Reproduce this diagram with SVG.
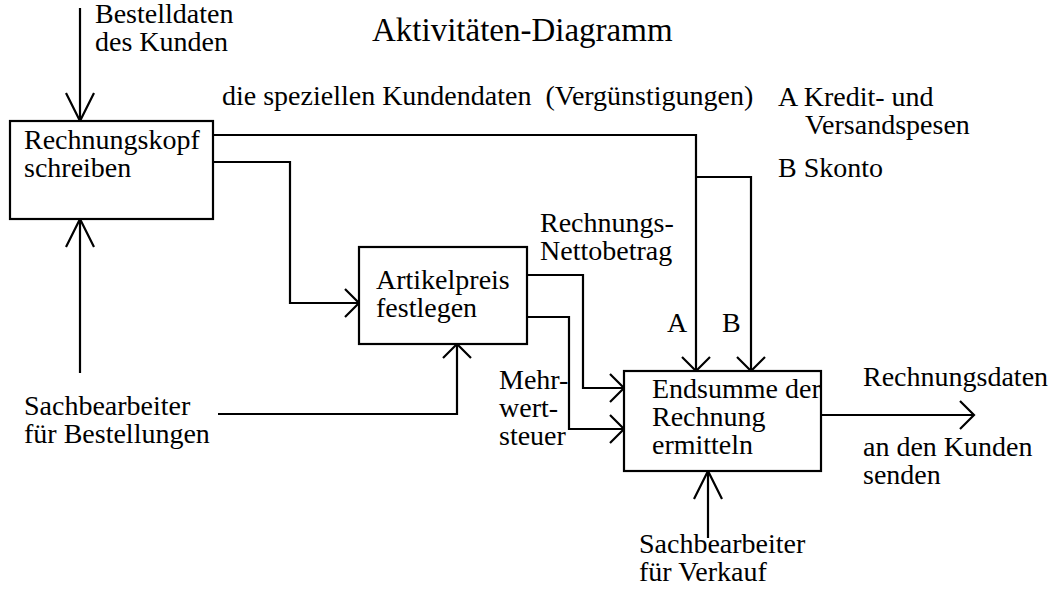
<svg xmlns="http://www.w3.org/2000/svg" width="1052" height="590" viewBox="0 0 1052 590">
  <style>
    text { font-family: "Liberation Serif", "Times New Roman", serif; font-size: 28px; fill: #000; }
    .title { font-size: 33px; }
    .box { fill: #fff; stroke: #000; stroke-width: 2.2; }
    .wire { fill: none; stroke: #000; stroke-width: 2.2; }
  </style>
  <defs>
    <!-- open V heads: short and long variants -->
    <marker id="head" markerUnits="userSpaceOnUse" orient="auto" refX="0" refY="0" markerWidth="40" markerHeight="40" overflow="visible">
      <path d="M-14,-14 L0,0 L-14,14" fill="none" stroke="#000" stroke-width="2.2"/>
    </marker>
    <marker id="headLong" markerUnits="userSpaceOnUse" orient="auto" refX="0" refY="0" markerWidth="40" markerHeight="40" overflow="visible">
      <path d="M-28,-14 L0,0 L-28,14" fill="none" stroke="#000" stroke-width="2.2"/>
    </marker>
  </defs>

  <rect width="1052" height="590" fill="#fff"/>

  <text class="title" x="372" y="41">Aktivitäten-Diagramm</text>

  <!-- connectors -->
  <g id="connectors">
    <!-- input: order data -->
    <path class="wire" d="M80,8 L80,121" marker-end="url(#headLong)"/>
    <!-- control: clerk for orders -->
    <path class="wire" d="M80,373 L80,219" marker-end="url(#headLong)"/>
    <!-- special customer data to A and B -->
    <path class="wire" d="M213,135 L696,135 L696,371" marker-end="url(#head)"/>
    <path class="wire" d="M696,177 L751,177 L751,371" marker-end="url(#head)"/>
    <!-- header to item price -->
    <path class="wire" d="M213,162 L290,162 L290,303 L359,303" marker-end="url(#head)"/>
    <!-- clerk to item price -->
    <path class="wire" d="M218,414 L457,414 L457,344" marker-end="url(#head)"/>
    <!-- net amount -->
    <path class="wire" d="M527,275 L583,275 L583,388 L624,388" marker-end="url(#head)"/>
    <!-- VAT -->
    <path class="wire" d="M527,317 L569,317 L569,429 L624,429" marker-end="url(#head)"/>
    <!-- output -->
    <path class="wire" d="M821,415 L974,415" marker-end="url(#head)"/>
    <!-- sales clerk -->
    <path class="wire" d="M708,538 L708,471" marker-end="url(#headLong)"/>
  </g>

  <g id="node-rechnungskopf">
    <rect class="box" x="10" y="121" width="203" height="98"/>
    <text x="24" y="149">Rechnungskopf</text>
    <text x="24" y="177">schreiben</text>
  </g>

  <g id="node-artikelpreis">
    <rect class="box" x="359" y="247" width="168" height="97"/>
    <text x="376" y="289">Artikelpreis</text>
    <text x="376" y="317">festlegen</text>
  </g>

  <g id="node-endsumme">
    <rect class="box" x="624" y="371" width="197" height="100"/>
    <text x="652" y="398">Endsumme der</text>
    <text x="652" y="426">Rechnung</text>
    <text x="652" y="454">ermitteln</text>
  </g>

  <g id="labels">
    <text x="95" y="23">Bestelldaten</text>
    <text x="95" y="51">des Kunden</text>
    <text x="222" y="105" xml:space="preserve">die speziellen Kundendaten  (Vergünstigungen)</text>
    <text x="778" y="106">A Kredit- und</text>
    <text x="805" y="134">Versandspesen</text>
    <text x="778" y="177">B Skonto</text>
    <text x="540" y="232">Rechnungs-</text>
    <text x="540" y="260">Nettobetrag</text>
    <text x="667" y="332">A</text>
    <text x="722" y="332">B</text>
    <text x="499" y="389">Mehr-</text>
    <text x="499" y="417">wert-</text>
    <text x="499" y="445">steuer</text>
    <text x="24" y="415">Sachbearbeiter</text>
    <text x="24" y="443">für Bestellungen</text>
    <text x="863" y="386">Rechnungsdaten</text>
    <text x="863" y="456">an den Kunden</text>
    <text x="863" y="484">senden</text>
    <text x="639" y="553">Sachbearbeiter</text>
    <text x="639" y="581">für Verkauf</text>
  </g>
</svg>
